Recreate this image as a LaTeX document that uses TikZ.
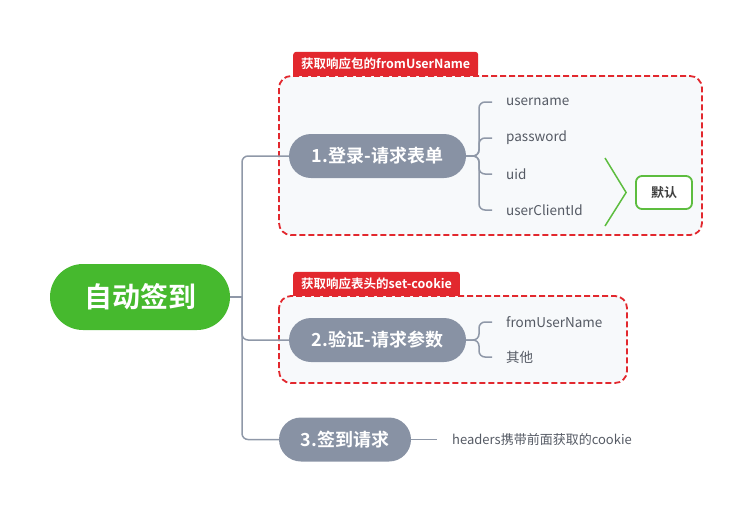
\documentclass[tikz,border=0pt]{standalone}
\usepackage{fontspec}
\setmainfont{Noto Sans CJK SC}[BoldFont={Noto Sans CJK SC Bold}]
\usetikzlibrary{positioning}
\definecolor{rootgreen}{RGB}{70,185,46}
\definecolor{topic}{RGB}{136,146,164}
\definecolor{branch}{RGB}{143,152,168}
\definecolor{tagred}{RGB}{226,40,46}
\definecolor{panel}{RGB}{247,249,251}
\definecolor{leaftext}{RGB}{85,90,100}
\definecolor{summ}{RGB}{93,189,63}
\tikzset{
  root/.style={fill=rootgreen, text=white, font=\bfseries\fontsize{28}{32}\selectfont,
              minimum width=180pt, minimum height=66pt, rounded corners=33pt, inner sep=0pt},
  topicbox/.style={fill=topic, text=white, font=\bfseries\fontsize{18}{21}\selectfont,
              minimum height=44pt, rounded corners=22pt, inner sep=0pt},
  leaf/.style={text=leaftext, font=\fontsize{13.5}{16}\selectfont, anchor=west, inner sep=0pt},
  tag/.style={fill=tagred, text=white, font=\bfseries\fontsize{12.5}{14}\selectfont,
              rounded corners=3pt, minimum height=24pt, inner xsep=8pt, anchor=south west},
  panelbox/.style={draw=tagred, fill=panel, line width=1.8pt, dash pattern=on 6pt off 3pt,
              rounded corners=12pt},
  link/.style={draw=branch, line width=1.5pt, rounded corners=6pt},
  summary/.style={draw=summ, line width=1.5pt},
  sumbox/.style={draw=summ, fill=white, line width=1.8pt, rounded corners=6pt,
              minimum width=56pt, minimum height=33pt, text=black!75,
              font=\bfseries\fontsize{13}{15}\selectfont},
}
\begin{document}
\begin{tikzpicture}[x=1pt,y=-1pt]
  \useasboundingbox (0,0) rectangle (752,512);
  % panels with their tags
  \draw[panelbox] (279,76) rectangle (702,235);
  \draw[panelbox] (279,296) rectangle (627,383);
  \node[tag] (tag1) at (293,76) {获取响应包的fromUserName};
  \fill[tagred] (tag1.south west) rectangle ([yshift=4pt]tag1.south east);
  \node[tag] (tag2) at (293,296) {获取响应表头的set-cookie};
  \fill[tagred] (tag2.south west) rectangle ([yshift=4pt]tag2.south east);
  % root and topics
  \node[root] (root) at (140,297) {自动签到};
  \node[topicbox,minimum width=177pt] (t1) at (377.5,156) {1.登录-请求表单};
  \node[topicbox,minimum width=177pt] (t2) at (377.5,340) {2.验证-请求参数};
  \node[topicbox,minimum width=132pt] (t3) at (345,439.5) {3.签到请求};
  \coordinate (hub) at (242,297);
  \draw[link] (root.east) -- (hub);
  \foreach \t in {t1,t2,t3}
    \draw[link] (hub) |- (\t.west);
  % leaves of topic 1
  \foreach \n/\txt/\y in {usr/username/102, pwd/password/138, uid/uid/174, cid/userClientId/210} {
    \node[leaf] (\n) at (506,\y) {\txt};
    \draw[link] (t1.east) -- (479,156) |- ([xshift=-14pt]\n.west);
  }
  \node[sumbox] (dflt) at (664,192.5) {默认};
  \coordinate (s1) at (605,158);
  \coordinate (s2) at (605,226);
  \draw[summary] (s1) -- ([xshift=-9pt]dflt.west) -- (s2);
  % leaves of topic 2
  \foreach \n/\txt/\y in {fun/fromUserName/322, oth/其他/357} {
    \node[leaf] (\n) at (506,\y) {\txt};
    \draw[link] (t2.east) -- (479,340) |- ([xshift=-14pt]\n.west);
  }
  % leaf of topic 3
  \node[leaf,font=\fontsize{13}{15}\selectfont] (hdr) at (452,439.5) {headers携带前面获取的cookie};
  \draw[link] (t3.east) -- ([xshift=-15pt]hdr.west);
\end{tikzpicture}
\end{document}
